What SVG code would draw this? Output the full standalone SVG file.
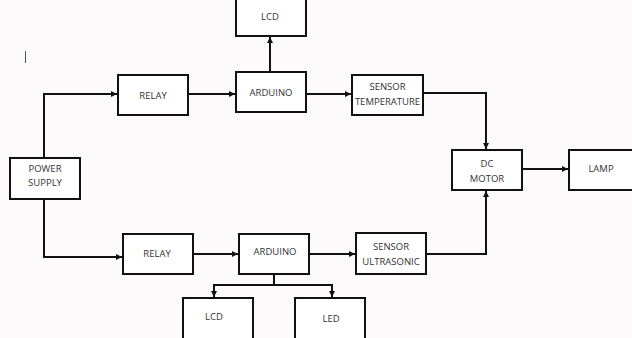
<svg xmlns="http://www.w3.org/2000/svg" width="632" height="338" viewBox="0 0 632 338">
  <style>
    .box { fill: #ffffff; stroke: #111111; stroke-width: 2; }
    .lbl { font-family: "Open Sans", "Liberation Sans", sans-serif; font-size: 9.5px; fill: #333333; text-anchor: middle; }
    .wire { fill: none; stroke: #111111; stroke-width: 2; }
  </style>
  <defs>
    <marker id="arr" viewBox="0 0 6 6" refX="6" refY="3" markerWidth="6" markerHeight="6" markerUnits="userSpaceOnUse" orient="auto">
      <path d="M0,0 L6,3 L0,6 Z" fill="#111111"/>
    </marker>
  </defs>
  <rect width="632" height="338" fill="#fdfafb"/>

  <!-- text cursor -->
  <line x1="25.5" y1="51" x2="25.5" y2="63" stroke="#555555" stroke-width="1"/>

  <g id="connectors">
    <path class="wire" d="M44,158 V94 H117" marker-end="url(#arr)"/>
    <path class="wire" d="M188,94 H235" marker-end="url(#arr)"/>
    <path class="wire" d="M270,72 V37" marker-end="url(#arr)"/>
    <path class="wire" d="M306,94 H351" marker-end="url(#arr)"/>
    <path class="wire" d="M423,93 H486 V149" marker-end="url(#arr)"/>
    <path class="wire" d="M522,169 H568" marker-end="url(#arr)"/>
    <path class="wire" d="M44,199 V257 H122" marker-end="url(#arr)"/>
    <path class="wire" d="M193,254 H238" marker-end="url(#arr)"/>
    <path class="wire" d="M309,254 H355" marker-end="url(#arr)"/>
    <path class="wire" d="M426,254 H486 V191" marker-end="url(#arr)"/>
    <path class="wire" d="M274,274 V285"/>
    <path class="wire" d="M214,297 V285 H332 V297" marker-end="url(#arr)"/>
    <path class="wire" d="M214,285 V297" marker-end="url(#arr)"/>
  </g>

  <g id="lcd-top">
    <rect class="box" x="236" y="-4" width="70" height="40"/>
    <text class="lbl" x="270" y="20">LCD</text>
  </g>
  <g id="relay-top">
    <rect class="box" x="118" y="75" width="70" height="40"/>
    <text class="lbl" x="153" y="99">RELAY</text>
  </g>
  <g id="arduino-top">
    <rect class="box" x="236" y="72" width="70" height="40"/>
    <text class="lbl" x="271" y="96">ARDUINO</text>
  </g>
  <g id="sensor-temperature">
    <rect class="box" x="352" y="75" width="71" height="40"/>
    <text class="lbl" x="387.5" y="90">SENSOR</text>
    <text class="lbl" x="387.5" y="105">TEMPERATURE</text>
  </g>
  <g id="dc-motor">
    <rect class="box" x="452" y="150" width="70" height="40"/>
    <text class="lbl" x="487" y="167">DC</text>
    <text class="lbl" x="487" y="182">MOTOR</text>
  </g>
  <g id="lamp">
    <rect class="box" x="569" y="150" width="70" height="40"/>
    <text class="lbl" x="601" y="172">LAMP</text>
  </g>
  <g id="power-supply">
    <rect class="box" x="10" y="158" width="70" height="41"/>
    <text class="lbl" x="45" y="172">POWER</text>
    <text class="lbl" x="45" y="186">SUPPLY</text>
  </g>
  <g id="relay-bottom">
    <rect class="box" x="123" y="234" width="70" height="40"/>
    <text class="lbl" x="157" y="257">RELAY</text>
  </g>
  <g id="arduino-bottom">
    <rect class="box" x="239" y="234" width="70" height="40"/>
    <text class="lbl" x="275" y="255">ARDUINO</text>
  </g>
  <g id="sensor-ultrasonic">
    <rect class="box" x="356" y="233" width="70" height="41"/>
    <text class="lbl" x="391" y="250">SENSOR</text>
    <text class="lbl" x="391" y="265">ULTRASONIC</text>
  </g>
  <g id="lcd-bottom">
    <rect class="box" x="183" y="298" width="70" height="44"/>
    <text class="lbl" x="214" y="320">LCD</text>
  </g>
  <g id="led">
    <rect class="box" x="295" y="298" width="70" height="44"/>
    <text class="lbl" x="331" y="322">LED</text>
  </g>
</svg>
